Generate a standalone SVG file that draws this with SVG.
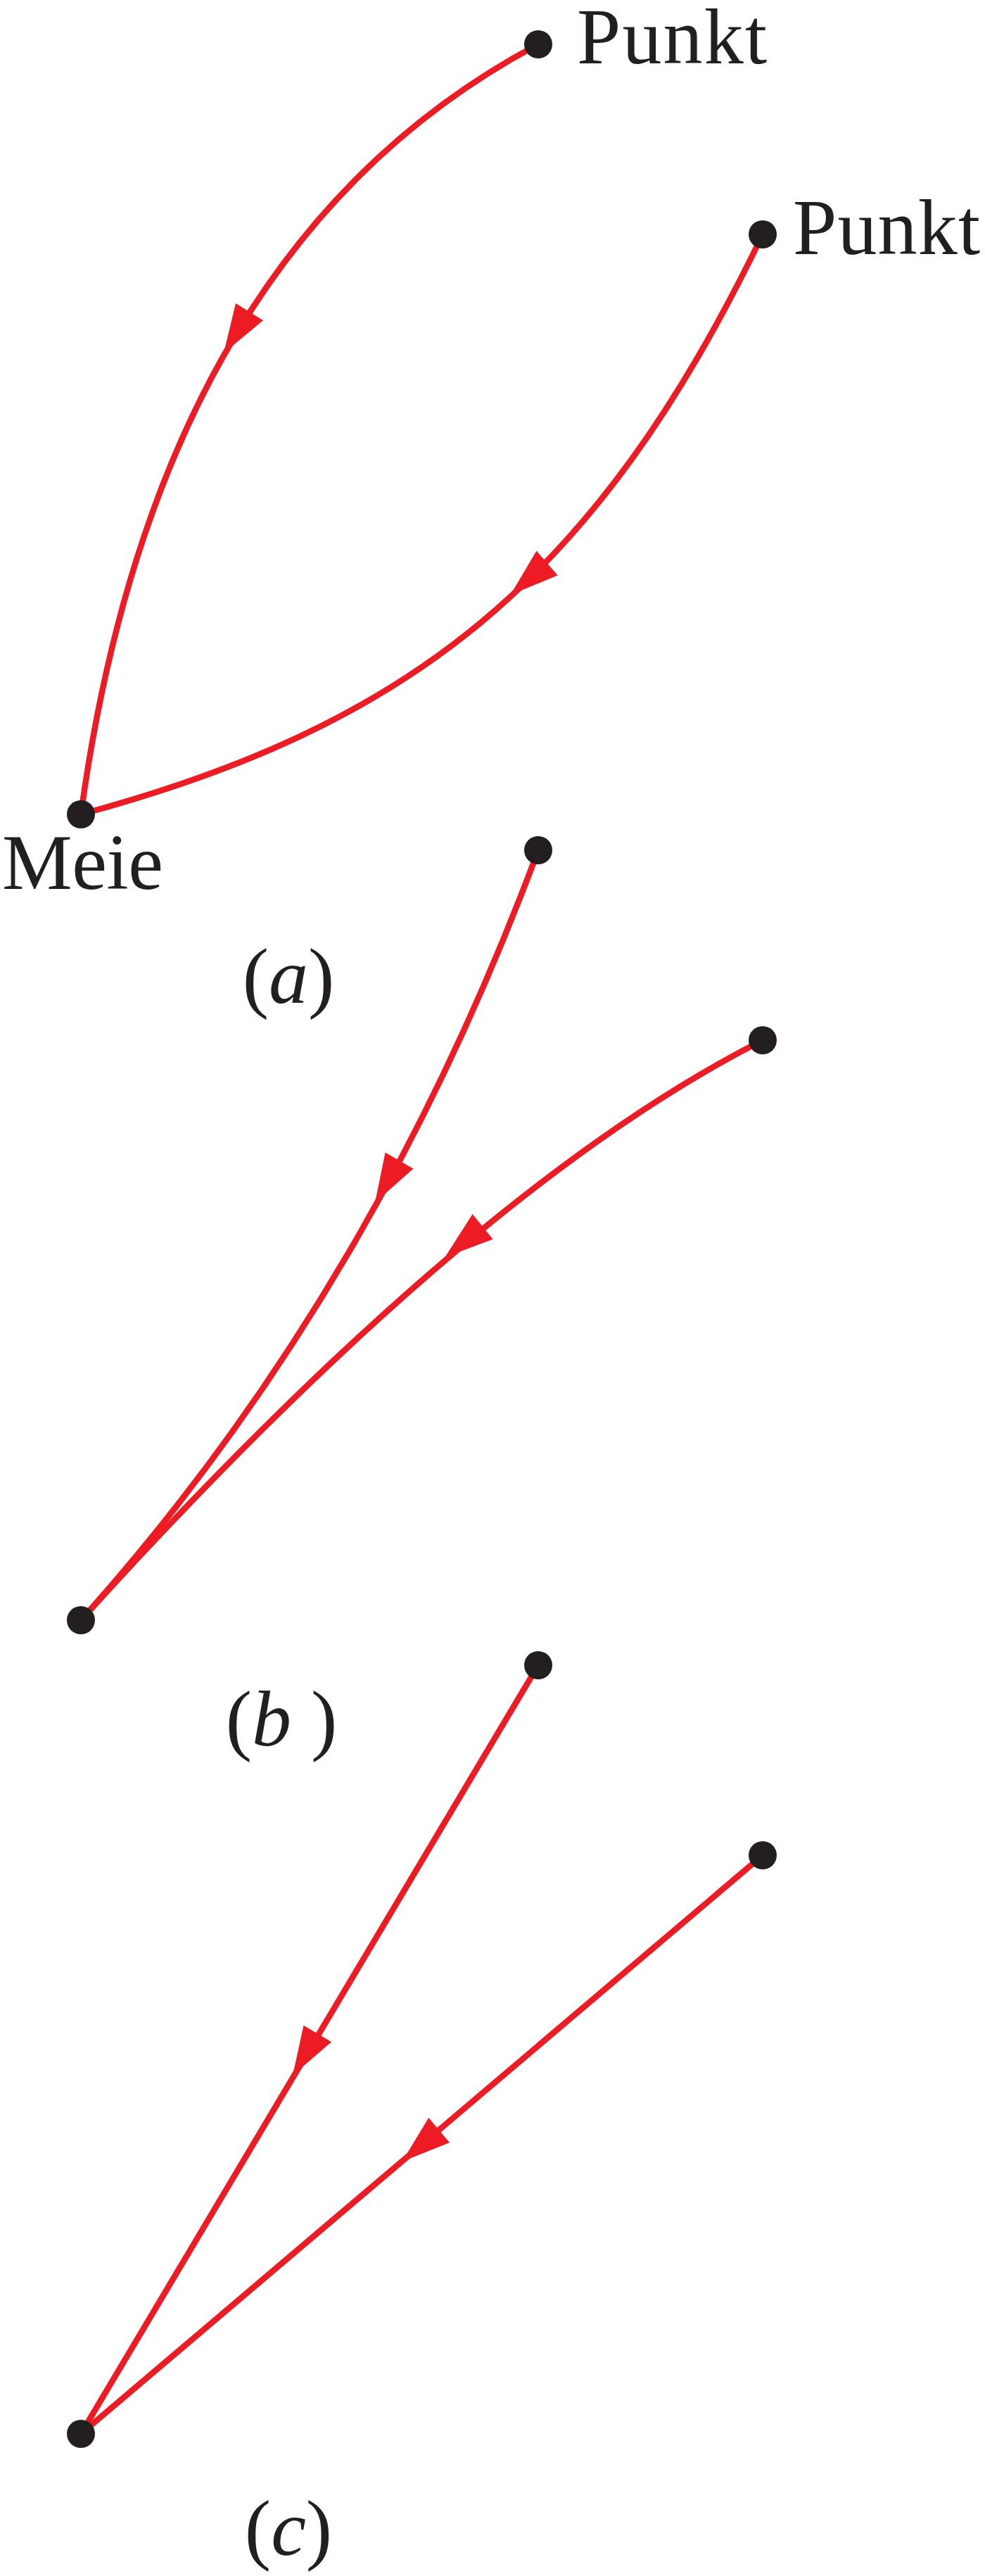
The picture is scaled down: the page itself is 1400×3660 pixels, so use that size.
<svg xmlns="http://www.w3.org/2000/svg" xmlns:xlink="http://www.w3.org/1999/xlink" width="1400" height="3660" viewBox="0 0 1400 3660">
<style>
.edge{fill:none;stroke:#ed1c24;stroke-width:8.5;stroke-linecap:round}
.dot{fill:#231f20}
.lbl{font-family:"Liberation Serif","Times New Roman",serif;font-size:112px;fill:#231f20}
.it{font-style:italic}
</style>
<defs>
<path id="ah" d="M2,0 L-67,-23 L-67,23 Z" fill="#ed1c24"/>
</defs>
<rect width="1400" height="3660" fill="#ffffff"/>
<g id="connectors">
<path class="edge" d="M765,63 Q225,350 115,1157"/>
<path class="edge" d="M1084,333 C845,830 578,1032 115,1157"/>
<path class="edge" d="M765,1208 Q530,1840 115,2302"/>
<path class="edge" d="M1084,1478 Q670,1688 115,2302"/>
<path class="edge" d="M765,2366 L115,3458"/>
<path class="edge" d="M1084,2636 L115,3458"/>
<use xlink:href="#ah" transform="translate(319,500) rotate(122)"/>
<use xlink:href="#ah" transform="translate(727,844) rotate(139)"/>
<use xlink:href="#ah" transform="translate(534,1707) rotate(120)"/>
<use xlink:href="#ah" transform="translate(634,1785) rotate(141)"/>
<use xlink:href="#ah" transform="translate(417,2947) rotate(120.76)"/>
<use xlink:href="#ah" transform="translate(573,3070) rotate(139.7)"/>
</g>
<g id="a-punkt1"><circle class="dot" cx="765" cy="63" r="20"/><text class="lbl" x="820" y="90" textLength="270">Punkt</text></g>
<g id="a-punkt2"><circle class="dot" cx="1084" cy="333" r="20"/><text class="lbl" x="1127" y="361" textLength="266">Punkt</text></g>
<g id="a-meie"><circle class="dot" cx="115" cy="1157" r="20"/><text class="lbl" x="3" y="1263" textLength="229">Meie</text></g>
<g id="a-label"><text class="lbl" x="410" y="1425" text-anchor="middle">(<tspan class="it">a</tspan>)</text></g>
<g id="b-top"><circle class="dot" cx="765" cy="1208" r="20"/></g>
<g id="b-right"><circle class="dot" cx="1084" cy="1478" r="20"/></g>
<g id="b-bottom"><circle class="dot" cx="115" cy="2302" r="20"/></g>
<g id="b-label"><text class="lbl" x="400" y="2480" text-anchor="middle">(<tspan class="it">b</tspan> )</text></g>
<g id="c-top"><circle class="dot" cx="765" cy="2366" r="20"/></g>
<g id="c-right"><circle class="dot" cx="1084" cy="2636" r="20"/></g>
<g id="c-bottom"><circle class="dot" cx="115" cy="3458" r="20"/></g>
<g id="c-label"><text class="lbl" x="410" y="3630" text-anchor="middle">(<tspan class="it">c</tspan>)</text></g>
</svg>
